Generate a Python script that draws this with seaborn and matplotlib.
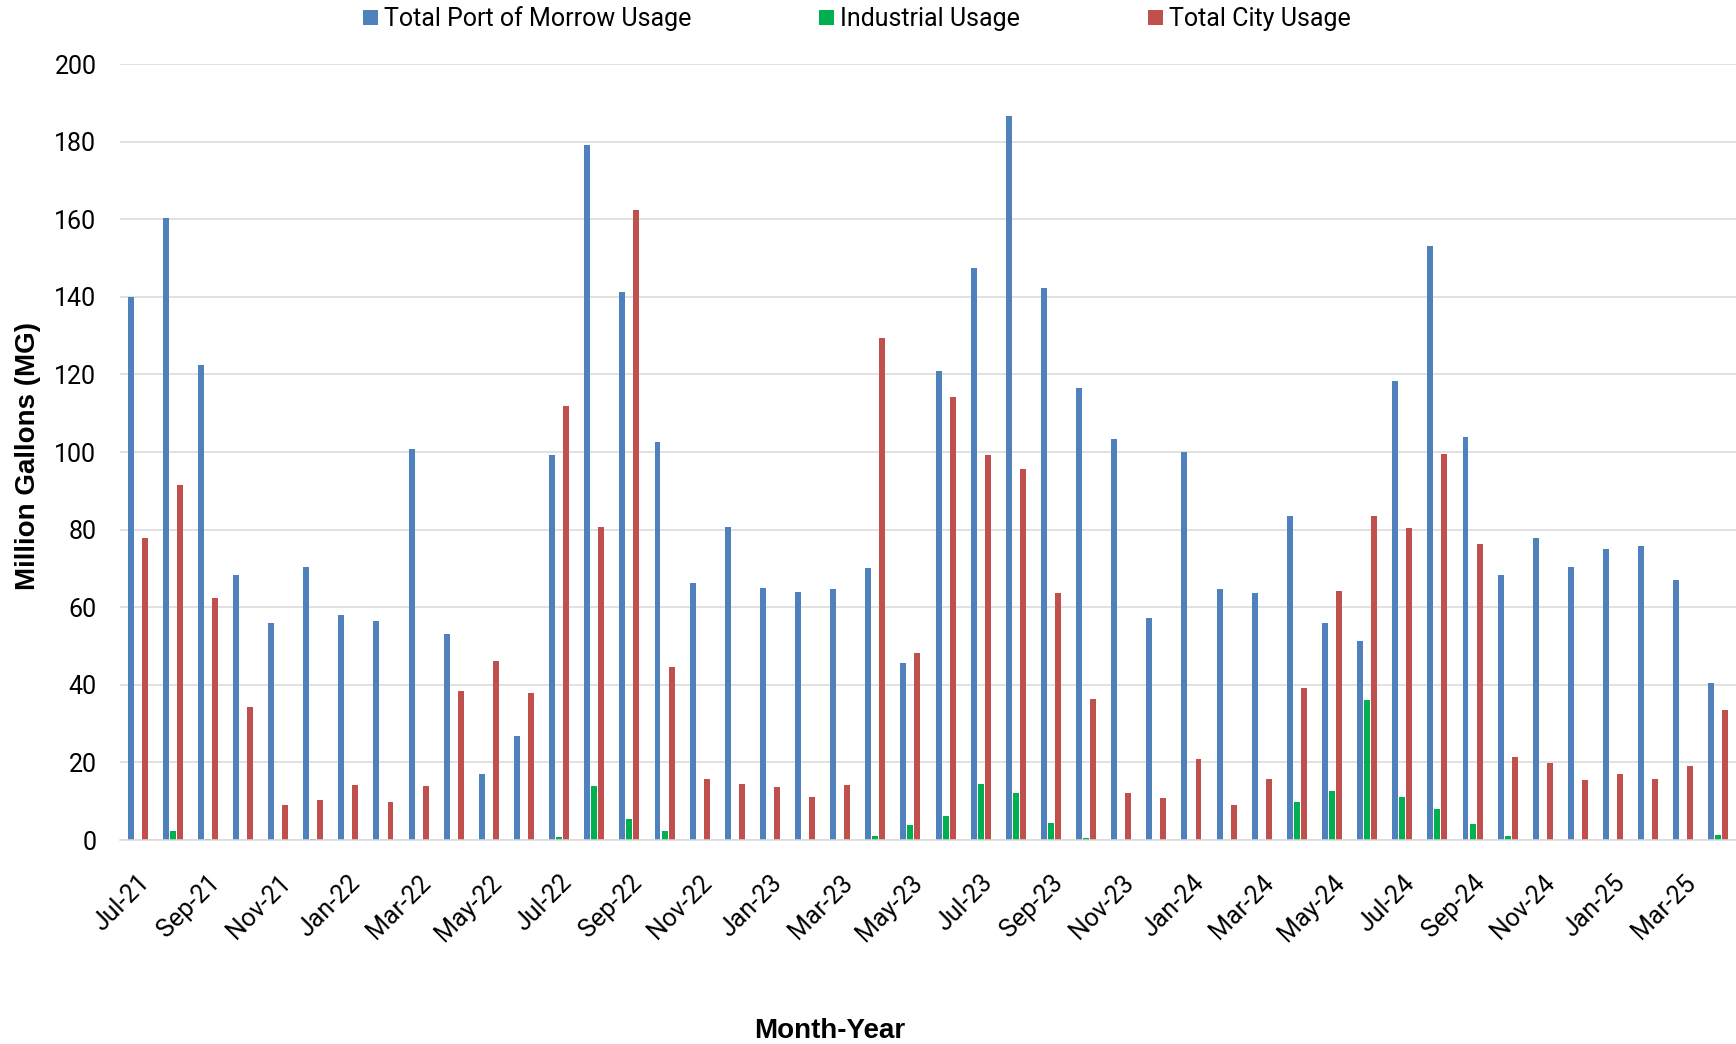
import matplotlib
matplotlib.use("Agg")
import matplotlib.pyplot as plt
import seaborn as sns
import pandas as pd
import numpy as np
from matplotlib.ticker import FixedLocator

months = ["Jul-21", "Aug-21", "Sep-21", "Oct-21", "Nov-21", "Dec-21",
          "Jan-22", "Feb-22", "Mar-22", "Apr-22", "May-22", "Jun-22",
          "Jul-22", "Aug-22", "Sep-22", "Oct-22", "Nov-22", "Dec-22",
          "Jan-23", "Feb-23", "Mar-23", "Apr-23", "May-23", "Jun-23",
          "Jul-23", "Aug-23", "Sep-23", "Oct-23", "Nov-23", "Dec-23",
          "Jan-24", "Feb-24", "Mar-24", "Apr-24", "May-24", "Jun-24",
          "Jul-24", "Aug-24", "Sep-24", "Oct-24", "Nov-24", "Dec-24",
          "Jan-25", "Feb-25", "Mar-25", "Apr-25"]

port_usage = [140.0, 160.3, 122.3, 68.2, 56.0, 70.4, 58.1, 56.4, 100.7, 53.1, 17.0, 26.8,
              99.1, 179.0, 141.2, 102.5, 66.2, 80.7, 64.9, 63.8, 64.6, 70.1, 45.5, 120.9,
              147.4, 186.7, 142.2, 116.4, 103.4, 57.2, 100.1, 64.7, 63.6, 83.5, 55.9, 51.4,
              118.3, 153.2, 103.9, 68.2, 77.9, 70.4, 74.9, 75.7, 66.9, 40.4]

industrial_usage = [0.0, 2.3, 0.3, 0.0, 0.0, 0.3, 0.0, 0.0, 0.0, 0.0, 0.0, 0.0,
                    0.8, 14.0, 5.5, 2.3, 0.0, 0.0, 0.0, 0.0, 0.0, 1.0, 3.9, 6.3,
                    14.5, 12.2, 4.3, 0.5, 0.0, 0.0, 0.0, 0.0, 0.1, 9.8, 12.7, 36.0,
                    11.0, 8.1, 4.2, 1.0, 0.0, 0.0, 0.0, 0.0, 0.0, 1.3]

city_usage = [77.8, 91.4, 62.5, 34.3, 9.1, 10.3, 14.2, 9.7, 14.0, 38.5, 46.1, 38.0,
              111.8, 80.6, 162.5, 44.7, 15.6, 14.4, 13.7, 11.0, 14.2, 129.3, 48.3, 114.2,
              99.1, 95.5, 63.6, 36.4, 12.2, 10.8, 20.9, 9.1, 15.6, 39.2, 64.2, 83.5,
              80.5, 99.6, 76.3, 21.5, 19.8, 15.4, 17.1, 15.6, 19.1, 33.4]

series_names = ["Total Port of Morrow Usage", "Industrial Usage", "Total City Usage"]
series_colors = ["#4F81BD", "#00B050", "#C0504D"]

df = pd.DataFrame({
    "Month": months * 3,
    "Series": [series_names[0]] * len(months) + [series_names[1]] * len(months) + [series_names[2]] * len(months),
    "Value": port_usage + industrial_usage + city_usage,
})

sns.set_style("white")
plt.rcParams["font.family"] = ["Roboto", "DejaVu Sans"]
plt.rcParams["text.color"] = "black"
plt.rcParams["xtick.labelcolor"] = "black"
plt.rcParams["ytick.labelcolor"] = "black"

W, H = 1736, 1044
fig = plt.figure(figsize=(W / 100, H / 100), dpi=100)
ax_left, ax_right, ax_top, ax_bottom = 120, 1736, 64, 840
ax = fig.add_axes([ax_left / W, 1 - ax_bottom / H, (ax_right - ax_left) / W, (ax_bottom - ax_top) / H])

sns.barplot(data=df, x="Month", y="Value", hue="Series", order=months,
            hue_order=series_names, palette=series_colors, saturation=1,
            width=0.6, gap=0.15, linewidth=0, ax=ax, legend=True)

ax.set_xlim(-0.5, len(months) - 0.5)
ax.set_ylim(0, 200)
ax.set_yticks(np.arange(0, 201, 20))
ax.yaxis.grid(True, color="#D9D9D9", linewidth=1.1)
ax.set_axisbelow(True)
for s in ["top", "right", "left"]:
    ax.spines[s].set_visible(False)
ax.spines["bottom"].set_color("#D9D9D9")
ax.spines["bottom"].set_linewidth(1.1)

ax.tick_params(axis="y", length=0, pad=17, labelsize=18, labelcolor="black")
tick_pos = list(range(0, len(months), 2))
ax.set_xticks(tick_pos)
ax.set_xticklabels([months[i] for i in tick_pos], rotation=45, ha="right",
                   rotation_mode="anchor", fontsize=18, color="black")
ax.tick_params(axis="x", which="major", length=0, pad=22)
ax.xaxis.set_minor_locator(FixedLocator([i - 0.5 for i in range(0, len(months), 2)]))
ax.tick_params(axis="x", which="minor", length=6, width=1.1, color="#D9D9D9", direction="out")

ax.set_xlabel("")
ax.set_ylabel("")
bold_font = ["Liberation Sans", "DejaVu Sans"]
fig.text(28 / W, 1 - 456 / H, "Million Gallons (MG)", fontsize=20, fontweight="bold",
         family=bold_font, rotation=90, ha="center", va="center", color="black")
fig.text(830 / W, 1 - 1031 / H, "Month-Year", fontsize=20, fontweight="bold",
         family=bold_font, ha="center", va="center", color="black")

handles, labels = ax.get_legend_handles_labels()
ax.get_legend().remove()
leg = fig.legend(handles, labels, loc="center", bbox_to_anchor=(857 / W, 1 - 19 / H), ncol=3,
                 frameon=False, fontsize=18, handlelength=0.6, handleheight=0.52,
                 handletextpad=0.25, columnspacing=5.1, borderaxespad=0)
for t in leg.get_texts():
    t.set_color("black")

fig.savefig("out.png", dpi=100)
